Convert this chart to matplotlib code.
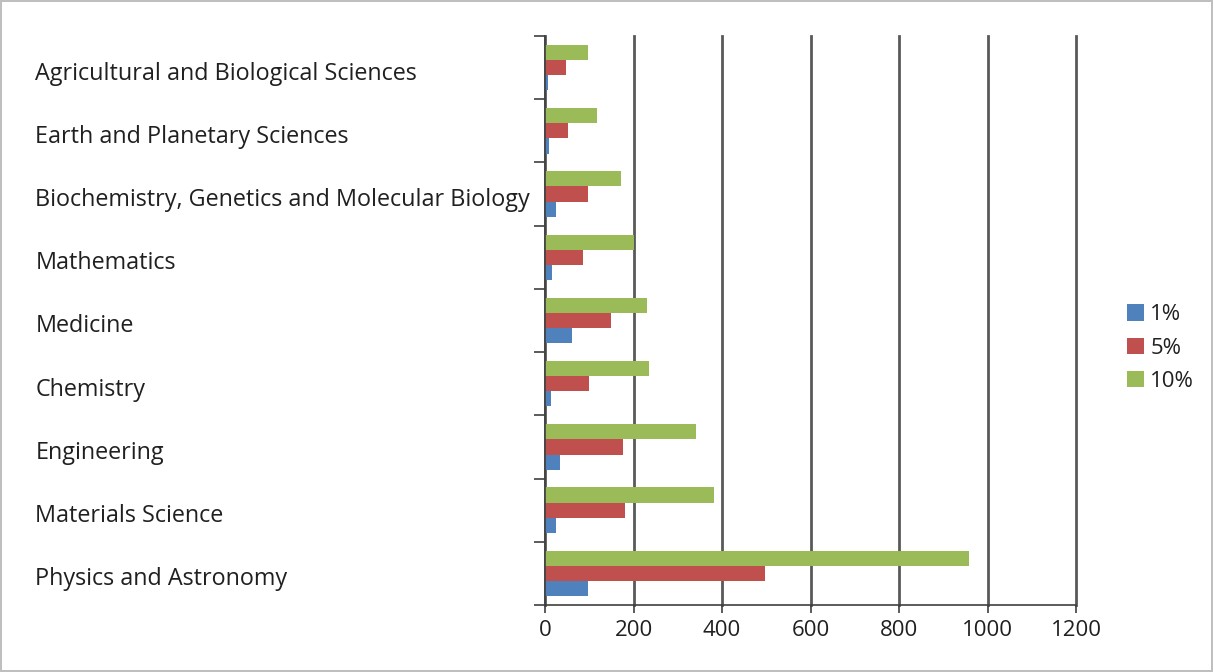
import numpy as np
import matplotlib
matplotlib.use('Agg')
import matplotlib.pyplot as plt
import matplotlib.transforms as mtransforms

categories = ['Physics and Astronomy', 'Materials Science', 'Engineering', 'Chemistry',
              'Medicine', 'Mathematics', 'Biochemistry, Genetics and Molecular Biology',
              'Earth and Planetary Sciences', 'Agricultural and Biological Sciences']
p1 = [97, 25, 34, 13, 60, 16, 25, 10, 7]
p5 = [497, 181, 177, 99, 149, 85, 97, 52, 47]
p10 = [958, 381, 342, 235, 231, 202, 171, 117, 97]
series_names = ['1%', '5%', '10%']
colors = ['#4F81BD', '#C0504D', '#9BBB59']

plt.rcParams['font.family'] = ['Open Sans', 'DejaVu Sans']
fs = 16

fig = plt.figure(figsize=(12.13, 6.72), dpi=100)
fig.patch.set_edgecolor('#BFBFBF')
fig.patch.set_linewidth(1.5)
ax = fig.add_axes([545/1213, 1 - 605/672, (1076-545)/1213, (605-36)/672])

y = np.arange(len(categories))
h = 0.24
ax.barh(y - h, p1, height=h, color=colors[0], label=series_names[0])
ax.barh(y, p5, height=h, color=colors[1], label=series_names[1])
ax.barh(y + h, p10, height=h, color=colors[2], label=series_names[2])

ax.set_xlim(0, 1200)
ax.set_ylim(-0.5, len(categories) - 0.5)
ax.set_xticks(np.arange(0, 1201, 200))
ax.tick_params(axis='x', direction='out', length=6, width=1.2, colors='#404040',
               labelsize=fs, labelcolor='#202020', pad=5)
ax.grid(axis='x', color='#595959', linewidth=2)
ax.set_axisbelow(True)
for gl in ax.get_xgridlines():
    gl.set_clip_on(False)

# ticks at category boundaries, labels at centres
ax.set_yticks(np.arange(-0.5, len(categories), 1.0))
ax.set_yticklabels([])
ax.set_yticks(y, minor=True)
ax.set_yticklabels(categories, minor=True, ha='left', fontsize=16.8, color='#202020')
ax.tick_params(axis='y', which='major', direction='out', length=8, width=1.2, colors='#404040')
ax.tick_params(axis='y', which='minor', length=0, pad=367)
shift = mtransforms.ScaledTranslation(0, -3/100, fig.dpi_scale_trans)
for lbl in ax.get_yticklabels(minor=True):
    lbl.set_transform(lbl.get_transform() + shift)

for s in ['top', 'right']:
    ax.spines[s].set_visible(False)
for s in ['left', 'bottom']:
    ax.spines[s].set_color('#404040')
    ax.spines[s].set_linewidth(1.2)

handles, labels = ax.get_legend_handles_labels()
leg = fig.legend(handles, labels, loc='center left', bbox_to_anchor=(1127/1213, 1 - 348/672),
                 frameon=False, fontsize=fs, handlelength=0.75, handleheight=0.75,
                 handletextpad=0.3, labelspacing=0.55, borderaxespad=0, borderpad=0)
for t in leg.get_texts():
    t.set_color('#202020')

fig.savefig('out.png', dpi=100)
